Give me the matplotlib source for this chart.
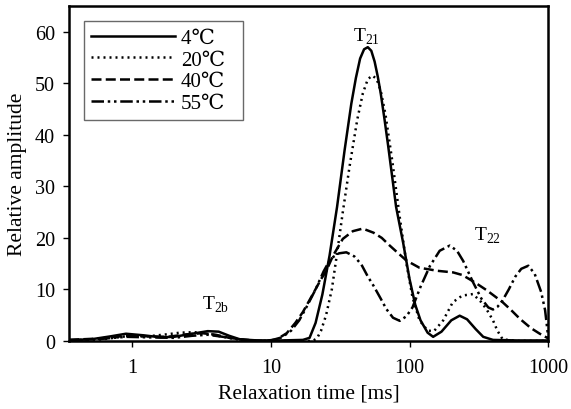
import numpy as np
from matplotlib import pyplot as plt

plt.rcParams['font.family'] = ['Liberation Serif', 'DejaVu Serif']
plt.rcParams['mathtext.fontset'] = 'custom'
plt.rcParams['mathtext.rm'] = 'Liberation Serif'

# relaxation time [ms] / relative amplitude
x_4 = [0.35, 0.5, 0.7, 0.9, 1.2, 1.6, 2.0, 2.7, 3.5, 4.2, 5.0, 6.0, 8, 12, 17, 19, 21, 23.5,
       26.5, 30, 34, 38, 41, 44, 47, 50, 53, 56, 59, 62, 66, 70, 80, 90, 100, 110, 120, 135,
       148, 170, 200, 230, 260, 300, 340, 400, 600, 1000]
y_4 = [0.2, 0.3, 0.9, 1.4, 1.1, 0.7, 0.8, 1.4, 1.9, 1.8, 1.0, 0.3, 0.1, 0.1, 0.2, 0.6, 3.5, 9,
       16.6, 26, 37, 46, 51, 54.8, 56.6, 57, 56.3, 54.2, 51.3, 48, 43, 38, 26, 19, 12, 7, 4, 1.6,
       0.8, 1.8, 4, 4.9, 4.2, 2.3, 0.8, 0.2, 0.1, 0.1]

x_20 = [0.35, 0.6, 0.9, 1.3, 1.8, 2.2, 2.8, 3.5, 4.5, 6, 8, 20, 21.5, 23, 25, 27.5, 30, 33,
        37, 42, 46, 50, 54, 58, 62, 67, 75, 85, 95, 105, 118, 135, 150, 175, 205, 240, 287,
        330, 362, 400, 430, 470, 600, 1000]
y_20 = [0.0, 0.3, 0.9, 0.9, 1.3, 1.6, 1.7, 1.4, 0.8, 0.2, 0.0, 0.0, 0.5, 2, 5, 10, 17, 25,
        34, 43, 48, 50.8, 51.5, 50.8, 48.5, 44, 35, 24, 15, 8.5, 4, 2, 1.9, 4, 7.5, 8.8, 9.1,
        7.5, 6, 4, 2, 0.3, 0.0, 0.0]

x_40 = [0.35, 0.6, 0.9, 1.3, 1.8, 2.5, 3.2, 4, 5, 6.5, 9, 11, 13, 15, 17, 20, 23, 25, 28,
        33, 39, 46, 55, 63, 72, 83, 95, 118, 160, 206, 240, 270, 310, 362, 420, 470, 540,
        625, 750, 870, 1000]
y_40 = [0.2, 0.5, 1.0, 0.9, 0.8, 1.3, 1.5, 1.2, 0.6, 0.2, 0.0, 0.3, 1.5, 3.5, 5.6, 9, 12, 13.5, 16.5,
        19.8, 21.3, 21.8, 21, 20, 18.5, 17, 15.6, 14.2, 13.6, 13.3, 12.8, 12, 11, 9.8, 8.5, 7.5, 6,
        4.3, 2.5, 1.4, 0.5]

x_55 = [0.35, 0.6, 0.9, 1.3, 2, 2.7, 3.5, 4.5, 6, 8, 10, 12, 14, 16, 18, 21, 24, 27, 31, 35,
        40, 45, 50, 55, 62, 68, 76, 85, 95, 105, 120, 140, 165, 195, 220, 244, 287, 330,
        370, 400, 430, 463, 520, 580, 640, 720, 800, 890, 950, 1000]
y_55 = [0.1, 0.4, 0.8, 0.7, 0.6, 1.0, 1.2, 0.8, 0.3, 0.0, 0.1, 0.7, 2, 4, 6.5, 10, 13.5, 16, 17, 17.2,
        16.4, 14.8, 12.5, 10.7, 8.2, 6.2, 4.5, 3.9, 4.8, 6.5, 10.5, 14.5, 17.5, 18.5, 17.5, 15.5, 11.4, 8.2,
        6.5, 6.1, 6.6, 7.6, 10, 12.5, 14, 14.6, 13, 9.5, 6, 0.8]

labels = ['4℃', '20℃', '40℃', '55℃']

fig = plt.figure(figsize=(5.71, 4.10), dpi=100)
ax = fig.add_axes([0.121, 0.166, 0.839, 0.817])

lw = 1.8
ax.plot(x_4, y_4, color='black', lw=lw, linestyle='-', label=labels[0] + '    ')
ax.plot(x_20, y_20, color='black', lw=lw, linestyle=(0, (0.8, 1.6)), label=labels[1])
ax.plot(x_40, y_40, color='black', lw=lw, linestyle=(0, (4, 1.7)), label=labels[2])
ax.plot(x_55, y_55, color='black', lw=lw, linestyle=(0, (5, 1.5, 1, 1.5, 1, 1.5)), label=labels[3])

ax.set_xscale('log')
ax.set_xlim(0.35, 1000)
ax.set_ylim(0, 65)
ax.set_xticks([1, 10, 100, 1000], ['1', '10', '100', '1000'])
ax.minorticks_off()
ax.set_yticks(np.arange(0, 61, 10))
ax.tick_params(direction='out', length=4, width=1, labelsize=14.5, colors='black')
ax.tick_params(axis='x', pad=8)
ax.tick_params(axis='y', pad=6)
for s in ax.spines.values():
    s.set_linewidth(1.8)

ax.set_xlabel('Relaxation time [ms]', fontsize=15.5, labelpad=5)
ax.set_ylabel('Relative amplitude', fontsize=15.5, labelpad=6)

ax.text(48.5, 58.3, r'T$_{21}$', fontsize=14, ha='center', va='baseline')
ax.text(367, 19.6, r'T$_{22}$', fontsize=14, ha='center', va='baseline')
ax.text(4.0, 6.2, r'T$_{2\mathrm{b}}$', fontsize=14, ha='center', va='baseline')

leg = ax.legend(loc='upper left', bbox_to_anchor=(0.031, 0.955), fontsize=15, frameon=True,
                fancybox=False, edgecolor='#444444', handlelength=4.0, handletextpad=0.3,
                labelspacing=0.1, borderpad=0.35, borderaxespad=0)
leg.get_frame().set_linewidth(1.0)

fig.savefig('out.png', dpi=100)
